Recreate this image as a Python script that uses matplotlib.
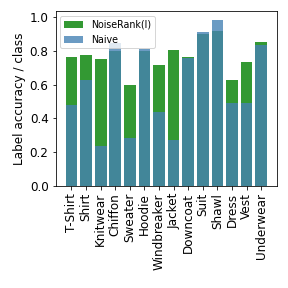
import matplotlib
matplotlib.use("Agg")
import matplotlib.pyplot as plt
import numpy as np

categories = ["T-Shirt", "Shirt", "Knitwear", "Chiffon", "Sweater", "Hoodie",
              "Windbreaker", "Jacket", "Downcoat", "Suit", "Shawl", "Dress",
              "Vest", "Underwear"]
noiserank = [0.760, 0.772, 0.749, 0.800, 0.595, 0.800, 0.713, 0.807, 0.760,
             0.898, 0.919, 0.625, 0.731, 0.849]
naive = [0.477, 0.627, 0.238, 0.847, 0.285, 0.811, 0.438, 0.273, 0.756,
         0.913, 0.984, 0.489, 0.489, 0.831]

fig = plt.figure(figsize=(4, 4), dpi=72)
ax = fig.add_axes([0.193, 0.354, 0.769, 0.607])
x = np.arange(len(categories))
ax.bar(x, noiserank, color="green", alpha=0.8, label="NoiseRank(I)")
ax.bar(x, naive, color="steelblue", alpha=0.8, label="Naive")
ax.set_xticks(x)
ax.set_xticklabels(categories, rotation=90, fontsize=12)
ax.tick_params(axis="y", labelsize=12)
ax.set_ylabel("Label accuracy / class", fontsize=12)
ax.legend(loc="upper left", fontsize=9.5)
fig.savefig("out.png", dpi=72)
